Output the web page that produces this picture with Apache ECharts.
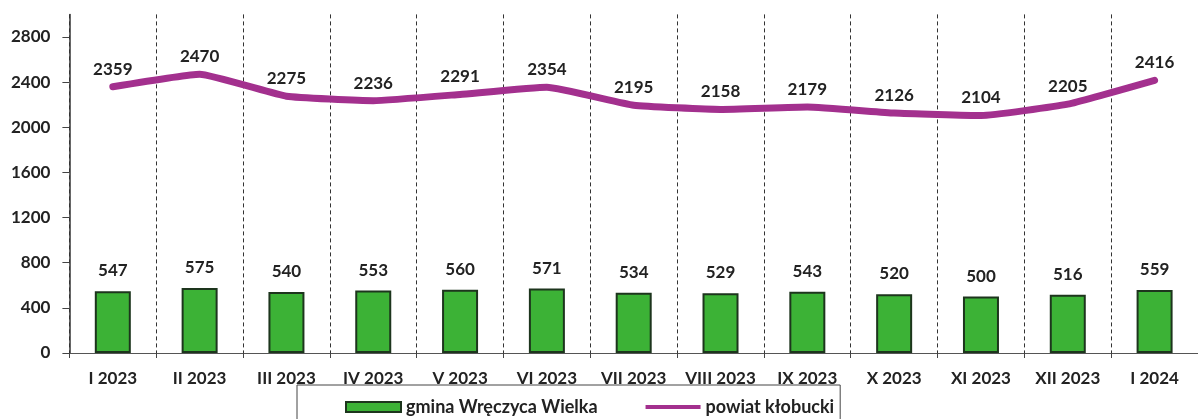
<!DOCTYPE html>
<html lang="pl">
<head>
    <meta charset="UTF-8">
    <title>Bezrobotni</title>
    <script src="https://cdn.jsdelivr.net/npm/echarts@6/dist/echarts.min.js"></script>
    <style>
        html, body { margin: 0; padding: 0; background: #fff; }
        #main { width: 1198px; height: 419px; }
    </style>
</head>
<body>
<div id="main"></div>
<script type="text/javascript">
    // dane z wykresu
    var months = ['I 2023', 'II 2023', 'III 2023', 'IV 2023', 'V 2023', 'VI 2023', 'VII 2023',
                  'VIII 2023', 'IX 2023', 'X 2023', 'XI 2023', 'XII 2023', 'I 2024'];
    var gmina = [547, 575, 540, 553, 560, 571, 534, 529, 543, 520, 500, 516, 559];
    var powiat = [2359, 2470, 2275, 2236, 2291, 2354, 2195, 2158, 2179, 2126, 2104, 2205, 2416];
    var yTicks = [0, 400, 800, 1200, 1600, 2000, 2400, 2800];

    var txt = '#222';
    var fnt = 'Lato, "Open Sans", sans-serif';

    var myChart = echarts.init(document.getElementById('main'));
    var option = {
        animation: false,
        textStyle: { fontFamily: fnt },
        grid: {
            left: 69.4,
            top: 14.4,
            width: 1139,
            bottom: 66
        },
        legend: {
            left: 297,
            top: 385,
            padding: [13, 6, 30, 48],
            borderColor: '#444',
            borderWidth: 1,
            itemWidth: 55,
            itemHeight: 10,
            itemGap: 48,
            textStyle: { color: txt, fontSize: 18, fontWeight: 'bold', fontFamily: fnt },
            data: [
                { name: 'gmina Wręczyca Wielka', icon: 'rect' },
                { name: 'powiat kłobucki', icon: 'path://M0,3h55v4h-55z', itemStyle: { color: '#a3308e' } }
            ]
        },
        xAxis: {
            type: 'category',
            data: months,
            axisLine: { lineStyle: { color: '#555', width: 1.2 } },
            axisTick: { show: true, length: 5, lineStyle: { color: '#444' } },
            splitLine: { show: true, lineStyle: { color: '#333', type: [4, 3], width: 1 } },
            axisLabel: { color: txt, fontSize: 17, fontWeight: 'bold', margin: 17, interval: 0 }
        },
        yAxis: {
            type: 'value',
            min: 0,
            max: 3000,
            interval: 400,
            splitLine: { show: false },
            axisLine: { show: true, lineStyle: { color: '#333', width: 1.5 } },
            axisTick: { show: true, length: 7, customValues: yTicks, lineStyle: { color: '#444' } },
            axisLabel: {
                color: txt, fontSize: 17, fontWeight: 'bold', margin: 19, customValues: yTicks,
                formatter: function (v) { return String(v); }
            }
        },
        series: [
            {
                name: 'gmina Wręczyca Wielka',
                type: 'bar',
                data: gmina,
                barWidth: 36,
                itemStyle: { color: '#3cb236', borderColor: '#1d351d', borderWidth: 2 },
                label: {
                    show: true, position: 'top', distance: 12,
                    color: txt, fontSize: 17, fontWeight: 'bold'
                }
            },
            {
                name: 'powiat kłobucki',
                type: 'line',
                data: powiat,
                smooth: 0.12,
                symbol: 'circle',
                symbolSize: 0.1,
                showSymbol: true,
                lineStyle: { color: '#a3308e', width: 7, cap: 'round' },
                itemStyle: { color: '#a3308e' },
                label: {
                    show: true, position: 'top', distance: 9,
                    color: txt, fontSize: 17, fontWeight: 'bold'
                },
                z: 3
            }
        ]
    };
    myChart.setOption(option);
</script>
</body>
</html>
